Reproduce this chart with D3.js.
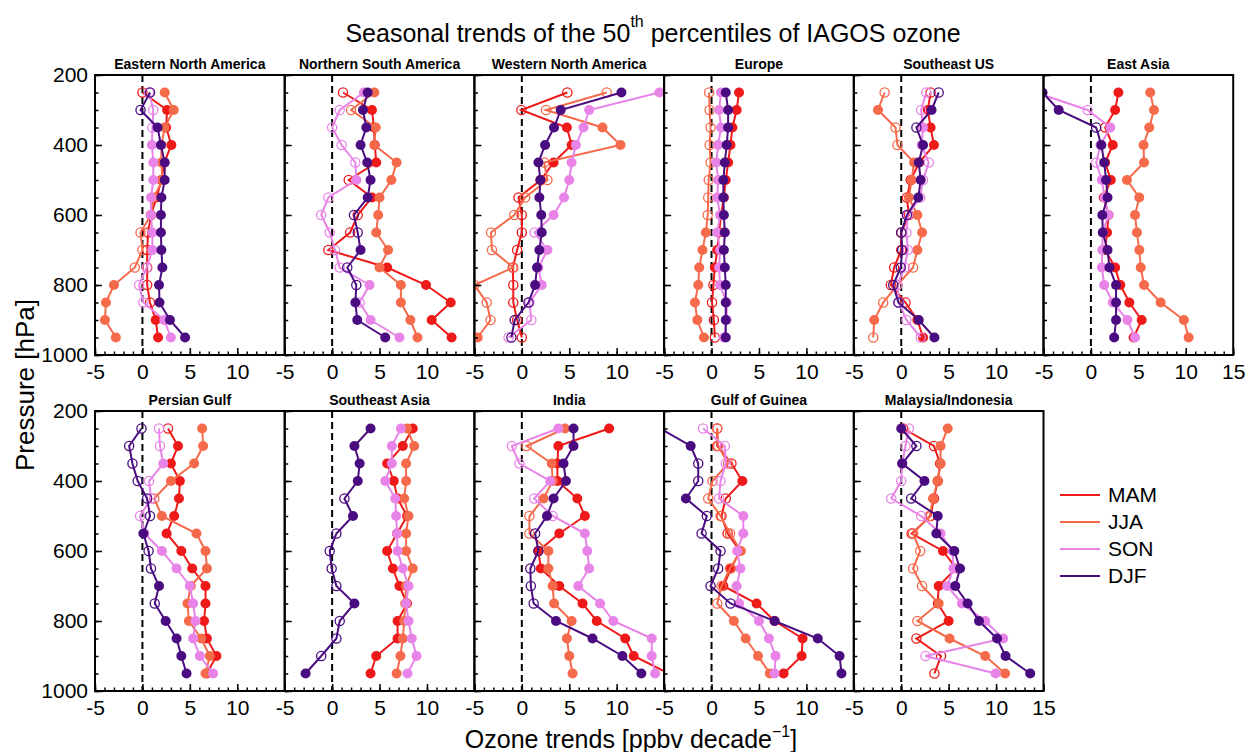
<!DOCTYPE html>
<html>
<head>
<meta charset="utf-8">
<script src="https://cdn.jsdelivr.net/npm/d3@7"></script>
<style>
  body { margin: 0; background: #fff; }
  svg { font-family: "Liberation Sans", Arial, sans-serif; }
</style>
</head>
<body>
<svg width="1247" height="752"></svg>
<script>
const svg = d3.select("svg");

// Regions, one panel each (first 6 on the top row)
const regions = ["Eastern North America", "Northern South America", "Western North America", "Europe",
    "Southeast US", "East Asia", "Persian Gulf", "Southeast Asia", "India", "Gulf of Guinea", "Malaysia/Indonesia"];

const seasons = ["MAM", "JJA", "SON", "DJF"];
const seasonColours = ["#ee1a1a", "#f66a4c", "#e884e8", "#4a0c80"];

// Pressure levels [hPa]
const levels = [250, 300, 350, 400, 450, 500, 550, 600, 650, 700, 750, 800, 850, 900, 950];

const xTicks = [-5, 0, 5, 10, 15];
const yTicks = [200, 400, 600, 800, 1000];

// Ozone trends [ppbv/decade], one row per region, from 250 to 950 hPa
const mam = [
    [0.0, 2.6, 2.5, 3.05, 2.3, 2.0, 1.5, 0.9, 0.6, 0.5, 0.5, 0.5, 0.8, 1.4, 1.65],
    [1.15, 4.2, 4.4, 4.5, 4.65, 1.75, 4.2, 2.7, 1.9, -0.4, 5.8, 9.9, 12.5, 10.5, 12.6],
    [4.8, -0.05, 4.75, 5.25, 3.35, 2.0, -0.35, 0.0, 0.0, -0.5, -0.95, -0.9, -0.9, -0.5, 0.0],
    [2.9, 2.65, 2.2, 2.0, 1.75, 1.5, 1.3, 1.0, 0.8, 0.6, 0.35, 0.2, 0.05, 0.25, 0.35],
    [3.1, 2.8, 3.1, 3.45, 1.9, 1.0, 0.6, 0.8, 0.0, 0.0, -0.75, -1.1, 0.45, 1.7, 2.3],
    [2.9, 2.55, 1.5, 2.3, 1.5, 2.1, 1.35, 1.85, 1.7, 1.5, 2.55, 3.1, 4.05, 5.35, 4.5],
    [2.7, 3.75, 3.0, 3.95, 3.85, 3.35, 2.55, 4.1, 5.25, 6.65, 6.65, 6.5, 6.8, 7.8, 6.8],
    [8.5, 7.45, 5.8, 6.5, 6.9, 7.9, 6.85, 5.8, 6.4, 7.1, 7.9, 6.9, 6.9, 4.65, 4.05],
    [9.2, 3.85, 3.75, 3.75, 5.85, 6.65, 3.95, 1.75, 2.0, 3.95, 6.4, 7.9, 10.9, 11.8, 15.5],
    [0.6, 0.6, 2.1, 3.25, 1.5, 1.05, 1.7, 3.0, 2.05, 1.25, 4.75, 6.65, 9.6, 9.5, 7.6],
    [0.2, 3.45, 4.1, 3.85, 3.45, 3.1, 1.1, 4.4, 5.8, 3.95, 3.85, 5.0, 1.6, 4.2, 3.5]
];
const jja = [
    [2.35, 3.3, 2.35, 2.0, 2.0, 2.1, 1.2, 0.9, -0.2, 0.0, -0.8, -3.0, -3.85, -3.95, -2.8],
    [4.45, 2.0, 4.6, 4.45, 6.8, 6.25, 5.0, 4.85, 4.65, 5.9, 5.0, 7.25, 7.25, 8.25, 9.0],
    [8.95, 2.55, 8.5, 10.4, 2.35, 2.7, 0.35, -0.8, -3.25, -3.15, -0.9, -5.0, -3.7, -3.3, -4.65],
    [-0.25, -0.2, -0.1, -0.2, -0.1, -0.3, -0.35, -0.4, -0.6, -0.95, -1.3, -1.4, -1.75, -1.5, -0.8],
    [-1.75, -2.45, -0.6, -0.4, 1.35, 1.1, 0.8, 1.7, 2.2, 1.7, 1.25, -0.4, -1.9, -2.85, -2.95],
    [6.25, 6.65, 6.15, 5.55, 5.6, 3.8, 5.1, 4.65, 4.85, 5.1, 5.25, 5.6, 7.35, 9.8, 10.3],
    [6.3, 6.4, 5.45, 3.0, 1.25, 2.05, 5.7, 6.65, 6.8, 5.1, 4.75, 4.9, 6.2, 7.1, 6.65],
    [7.9, 8.65, 7.8, 7.8, 7.6, 8.05, 7.8, 7.8, 8.5, 7.8, 7.7, 7.6, 7.45, 7.2, 6.8],
    [4.55, 0.5, 3.15, 3.25, 2.3, 0.8, 0.8, 2.8, 2.8, 3.25, 3.4, 5.25, 4.75, 5.0, 5.35],
    [0.6, 0.7, 1.75, 0.1, -0.35, 0.95, 1.95, 3.1, 1.95, 1.05, 0.6, 2.35, 3.6, 4.9, 6.15],
    [4.9, 4.15, 4.15, 3.85, 3.35, 3.0, 1.25, 2.0, 1.25, 2.2, 3.95, 1.7, 5.1, 8.85, 10.95]
];
const son = [
    [0.7, 1.15, 1.05, 1.0, 1.15, 1.15, 0.9, 0.9, 1.05, 1.05, 0.45, -0.35, 0.1, 2.3, 3.0],
    [3.35, 0.8, 0.0, 1.0, 2.45, 2.55, -0.4, -1.15, -0.25, 0.3, 0.8, 3.95, 2.9, 4.05, 7.1],
    [14.5, 7.1, 6.5, 5.7, 5.25, 5.0, 4.45, 3.35, 1.35, 2.7, 1.75, 2.1, 0.8, 1.0, -1.4],
    [1.0, 0.8, 1.0, 0.7, 0.5, 0.7, 0.6, 0.9, 0.6, 0.9, 0.8, 0.9, 1.6, 1.6, 1.3],
    [2.65, 2.1, 2.3, 2.15, 2.9, 2.3, 2.0, 0.7, 0.55, 0.7, 0.35, -0.4, -0.25, 0.55, 2.05],
    [-5.8, -0.35, 2.05, 1.0, 0.55, 1.15, 1.45, 1.85, 1.25, 1.2, 1.15, 1.4, 2.3, 3.85, 4.65],
    [1.75, 1.85, 2.2, 0.7, 0.9, -0.25, 0.2, 2.05, 3.6, 5.0, 5.35, 5.6, 5.35, 6.05, 7.45],
    [7.25, 6.3, 6.3, 5.6, 6.65, 6.75, 6.85, 6.9, 7.45, 8.05, 7.8, 8.05, 8.4, 8.9, 7.95],
    [3.85, -1.05, -0.25, 3.0, 1.3, 3.25, 6.65, 6.9, 7.1, 5.95, 8.25, 9.65, 13.7, 13.7, 14.05],
    [-0.9, 1.4, 1.5, 0.95, 0.8, 3.35, 3.35, 2.7, 3.05, 2.65, 2.9, 5.0, 6.05, 6.75, 6.65],
    [0.8, 0.45, 0.1, 0.0, -1.05, 2.1, 4.15, 5.4, 5.5, 4.85, 6.4, 8.85, 10.75, 2.55, 9.95]
];
const djf = [
    [0.8, -0.2, 1.6, 1.95, 2.35, 2.35, 2.0, 1.95, 1.95, 2.0, 2.1, 1.75, 1.8, 2.9, 4.5],
    [3.75, 3.25, 3.6, 3.0, 3.7, 4.05, 3.75, 2.3, 2.7, 3.0, 1.6, 2.55, 2.45, 2.65, 5.6],
    [10.5, 4.1, 3.4, 2.45, 1.75, 1.95, 1.85, 2.05, 2.1, 1.85, 1.6, 1.4, 0.7, -0.75, -1.1],
    [1.5, 1.75, 1.75, 1.6, 1.4, 1.25, 1.25, 1.3, 1.4, 1.3, 1.4, 1.5, 1.5, 1.5, 1.5],
    [3.95, 3.2, 1.6, 2.3, 1.85, 2.05, 1.8, 0.6, 0.0, 0.1, -0.05, -0.85, -0.3, 1.85, 3.5],
    [-5.1, -3.4, 0.55, 1.1, 1.4, 1.6, 1.75, 1.2, 1.25, 1.75, 1.95, 2.65, 2.65, 2.65, 2.45],
    [-0.1, -1.4, -1.05, -0.5, 0.5, 0.8, 0.1, 0.65, 0.9, 1.75, 1.3, 2.45, 3.6, 4.1, 4.65],
    [4.05, 2.35, 2.9, 2.7, 1.3, 2.2, 0.45, -0.25, -0.05, 0.45, 2.35, 0.8, 0.45, -1.15, -2.8],
    [5.45, 5.45, 4.4, 4.65, 3.35, 2.65, 1.4, 1.75, 0.9, 0.95, 1.25, 3.6, 7.45, 10.6, 12.6],
    [-5.4, -2.2, -1.4, -1.4, -2.7, -0.5, -1.05, 0.95, 0.7, -0.1, 2.0, 6.65, 11.2, 13.5, 13.7],
    [0.0, 1.6, 0.1, 2.45, 1.05, 3.85, 3.7, 5.6, 6.2, 5.7, 7.0, 8.2, 10.1, 11.0, 13.6]
];

// Significant trends (1 = filled marker, 0 = open marker)
const mamSig = ["011111100000011", "011110100011111", "001110000000000", "111111111110000", "011110000000011", "110111111111111",
    "011111111111111", "111111111111111", "111111111111111", "000100011111111", "000000011111000"];
const jjaSig = ["111111110001111", "101111111111111", "001100000000001", "000000001111111", "010011111100010", "111111111111111",
    "111101111111111", "111111111111111", "101110011111111", "000000010001111", "111110000010111"];
const sonSig = ["000111111100011", "100001000001011", "111111110111000", "111111111111111", "001100000000000", "001101111111111",
    "001000111111111", "111111111111111", "100100111111111", "000001111111111", "000000111111101"];
const djfSig = ["001111111111111", "111111100100111", "111111111111000", "111111111111111", "010111100000011", "110111111111111",
    "000000100101111", "111101000010001", "111111000001111", "110010000001111", "101101111111111"];

const seriesValues = [mam, jja, son, djf];
const seriesSig = [mamSig, jjaSig, sonSig, djfSig];

// Panel layout
const left0 = 95;
const panelW = 189.7;
const rowTop = [75, 411];
const panelH = 280;

regions.forEach((name, i) => {
    const row = i < 6 ? 0 : 1;
    const col = row === 0 ? i : i - 6;
    const lastInRow = i === 5 || i === 10;
    const x0 = left0 + col * panelW;
    const y0 = rowTop[row];

    const xScale = d3.scaleLinear().domain([-5, 15]).range([x0, x0 + panelW]);
    const yScale = d3.scaleLinear().domain([200, 1000]).range([y0, y0 + panelH]);

    const panel = svg.append("g");

    svg.append("clipPath").attr("id", "clip" + i)
        .append("rect")
        .attr("x", x0).attr("y", y0)
        .attr("width", panelW).attr("height", panelH);

    // Dashed zero line
    panel.append("line")
        .attr("x1", xScale(0)).attr("x2", xScale(0))
        .attr("y1", y0).attr("y2", y0 + panelH)
        .attr("stroke", "#000")
        .attr("stroke-width", 2)
        .attr("stroke-dasharray", "7,4");

    const plot = panel.append("g").attr("clip-path", `url(#clip${i})`);

    const line = d3.line()
        .x(d => xScale(d.v))
        .y(d => yScale(d.p));

    seasons.forEach((s, k) => {
        const pts = levels.map((p, j) => ({
            p: p,
            v: seriesValues[k][i][j],
            sig: seriesSig[k][i][j] === "1"
        }));
        const colour = seasonColours[k];

        plot.append("path")
            .datum(pts)
            .attr("fill", "none")
            .attr("stroke", colour)
            .attr("stroke-width", 2)
            .attr("d", line);

        plot.selectAll(null).data(pts)
            .enter().append("circle")
            .attr("cx", d => xScale(d.v))
            .attr("cy", d => yScale(d.p))
            .attr("r", d => d.sig ? 5 : 4.6)
            .attr("fill", d => d.sig ? colour : "none")
            .attr("stroke", colour)
            .attr("stroke-width", d => d.sig ? 0 : 1.3);
    });

    // Axes: inward ticks, major and minor
    const xMajor = d3.axisBottom(xScale)
        .tickValues(xTicks)
        .tickSize(-7)
        .tickPadding(9)
        .tickFormat(d => (d === 15 && !lastInRow) ? "" : d);
    const xMinor = d3.axisBottom(xScale)
        .tickValues(d3.range(-5, 16, 1))
        .tickSize(-3.5)
        .tickFormat("");

    const gxMinor = panel.append("g")
        .attr("transform", `translate(0,${y0 + panelH})`)
        .call(xMinor);
    const gx = panel.append("g")
        .attr("transform", `translate(0,${y0 + panelH})`)
        .call(xMajor);

    const yMajor = d3.axisLeft(yScale)
        .tickValues(yTicks)
        .tickSize(-7)
        .tickPadding(7)
        .tickFormat(d => col === 0 ? d : "");
    const yMinor = d3.axisLeft(yScale)
        .tickValues(d3.range(200, 1001, 50))
        .tickSize(-3.5)
        .tickFormat("");

    const gyMinor = panel.append("g")
        .attr("transform", `translate(${x0},0)`)
        .call(yMinor);
    const gy = panel.append("g")
        .attr("transform", `translate(${x0},0)`)
        .call(yMajor);

    [gx, gxMinor, gy, gyMinor].forEach(g => {
        g.select(".domain").remove();
        g.selectAll(".tick line").attr("stroke", "#000").attr("stroke-width", 1.5);
        g.selectAll(".tick text")
            .attr("fill", "#000")
            .style("font-size", "21px")
            .style("font-family", "'Liberation Sans', Arial, sans-serif");
    });

    // Frame
    panel.append("rect")
        .attr("x", x0).attr("y", y0)
        .attr("width", panelW).attr("height", panelH)
        .attr("fill", "none")
        .attr("stroke", "#000")
        .attr("stroke-width", 2);

    // Region title
    panel.append("text")
        .attr("x", x0 + panelW / 2)
        .attr("y", y0 - 6)
        .attr("text-anchor", "middle")
        .style("font-size", "14px")
        .style("font-weight", "bold")
        .text(name);
});

// Figure title
const title = svg.append("text")
    .attr("x", 653)
    .attr("y", 42)
    .attr("text-anchor", "middle")
    .style("font-size", "25px");
title.append("tspan").text("Seasonal trends of the 50");
title.append("tspan").attr("dy", -15).style("font-size", "16px").text("th");
title.append("tspan").attr("dy", 15).text(" percentiles of IAGOS ozone");

// Axis labels
svg.append("text")
    .attr("transform", "translate(34,385) rotate(-90)")
    .attr("text-anchor", "middle")
    .style("font-size", "26px")
    .text("Pressure [hPa]");

const xLabel = svg.append("text")
    .attr("x", 631)
    .attr("y", 748)
    .attr("text-anchor", "middle")
    .style("font-size", "25px");
xLabel.append("tspan").text("Ozone trends [ppbv decade");
xLabel.append("tspan").attr("dy", -11).style("font-size", "16px").text("\u22121");
xLabel.append("tspan").attr("dy", 11).text("]");

// Legend
const legend = svg.append("g").attr("transform", "translate(1060,495)");
seasons.forEach((s, k) => {
    const item = legend.append("g").attr("transform", `translate(0,${k * 27})`);
    item.append("line")
        .attr("x1", 0).attr("x2", 40)
        .attr("stroke", seasonColours[k])
        .attr("stroke-width", 2.2);
    item.append("text")
        .attr("x", 48)
        .attr("y", 7)
        .style("font-size", "21px")
        .text(s);
});
</script>
</body>
</html>
